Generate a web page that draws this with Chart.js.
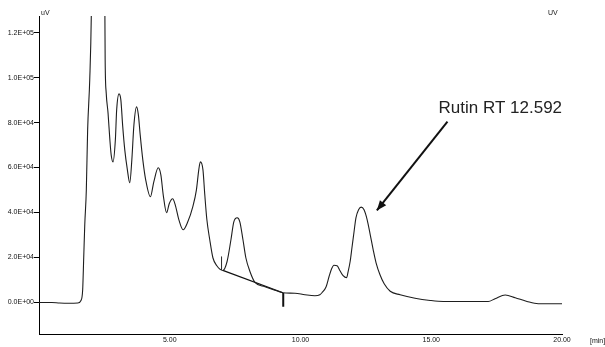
<!DOCTYPE html>
<html>
<head>
<meta charset="utf-8">
<script src="https://cdn.jsdelivr.net/npm/chart.js@4/dist/chart.umd.min.js"></script>
<style>
html,body{margin:0;padding:0;background:#fff;}
#wrap{width:605px;height:347px;}
</style>
</head>
<body>
<div id="wrap"><canvas id="c" width="605" height="347"></canvas></div>
<script>
// Retention time (min) and detector signal (uV)
const retentionMin = [0.00,0.49,0.79,1.18,1.48,1.60,1.67,1.71,1.75,1.81,1.86,1.94,2.00,2.10,2.40,2.52,2.53,2.57,2.64,2.71,2.76,2.83,2.92,2.97,3.06,3.13,3.20,3.28,3.38,3.47,3.55,3.63,3.73,3.80,3.87,3.97,4.08,4.26,4.39,4.56,4.66,4.75,4.88,4.98,5.11,5.21,5.35,5.51,5.69,5.88,6.02,6.11,6.17,6.27,6.34,6.42,6.53,6.65,6.80,7.03,7.19,7.34,7.45,7.58,7.68,7.80,7.91,8.07,8.26,8.64,9.02,9.33,9.79,10.17,10.55,10.74,10.82,10.98,11.09,11.19,11.28,11.40,11.51,11.63,11.76,11.82,11.90,11.97,12.05,12.12,12.22,12.32,12.43,12.55,12.66,12.78,12.89,13.04,13.20,13.43,13.81,14.38,14.96,15.46,17.18,17.44,17.83,18.21,18.66,19.09,20.00];
const signalUV = [0,0,-270,-360,-270,760,5640,19870,34530,50090,76750,98980,127420,240000,260000,127420,107870,93200,84310,72310,65640,62530,72310,85640,92760,90090,78530,67870,58980,53200,63420,78970,86980,83420,74530,63420,54530,46980,53640,59870,56750,47870,39870,43870,46090,43420,36750,32310,35870,42530,50090,58980,62530,58980,47870,36750,27870,19870,16310,14220,18090,27870,35870,37640,35870,27870,19870,13650,8890,6980,5420,4310,4090,3420,2980,3420,4310,6980,11420,14980,16530,16310,14090,11870,10980,13640,18310,24530,31640,37640,41200,42400,41200,36760,30530,23420,17640,12310,8310,4980,3420,1870,890,440,440,1640,3290,2090,440,-580,-580];

// Integration marks
const baselineT = [7.03, 9.33];
const baselineV = [14220, 4310];
const startMarkT = [6.98, 6.98];
const startMarkV = [20310, 14530];
const endMarkT = [9.34, 9.34];
const endMarkV = [4180, -1910];

// Annotation arrow (tail -> tip) and label
const arrowT = [15.62, 12.92];
const arrowV = [80440, 40890];
const annotationText = 'Rutin RT 12.592';
const annotationT = 15.28;
const annotationV = 84180;

// Axis ticks
const xTickValues = [5, 10, 15, 20];
const yTickValues = [0, 20000, 40000, 60000, 80000, 100000, 120000];
const xMin = 0, xMax = 20, yMin = -14044, yMax = 127400;

function pts(xs, ys){ return xs.map((x,i)=>({x:x, y:ys[i]})); }
function fmtExp(v){
  if (v === 0) return '0.0E+00';
  const e = Math.floor(Math.log10(Math.abs(v)));
  const m = v / Math.pow(10, e);
  return m.toFixed(1) + 'E' + (e >= 0 ? '+' : '-') + String(Math.abs(e)).padStart(2,'0');
}

const overlay = {
  id: 'overlay',
  afterDatasetsDraw(chart){
    const ctx = chart.ctx, xs = chart.scales.x, ys = chart.scales.y;
    // arrowhead
    const x0 = xs.getPixelForValue(arrowT[0]), y0 = ys.getPixelForValue(arrowV[0]);
    const x1 = xs.getPixelForValue(arrowT[1]), y1 = ys.getPixelForValue(arrowV[1]);
    const ang = Math.atan2(y1 - y0, x1 - x0);
    const L = 10, W = 4;
    ctx.save();
    ctx.fillStyle = '#111';
    ctx.beginPath();
    ctx.moveTo(x1, y1);
    ctx.lineTo(x1 - L*Math.cos(ang) + W*Math.sin(ang), y1 - L*Math.sin(ang) - W*Math.cos(ang));
    ctx.lineTo(x1 - L*Math.cos(ang) - W*Math.sin(ang), y1 - L*Math.sin(ang) + W*Math.cos(ang));
    ctx.closePath();
    ctx.fill();
    // label
    ctx.font = '17px "Liberation Sans", Arial, sans-serif';
    ctx.fillStyle = '#222';
    ctx.textAlign = 'left';
    ctx.textBaseline = 'alphabetic';
    ctx.fillText(annotationText, xs.getPixelForValue(annotationT), ys.getPixelForValue(annotationV));
    // unit labels
    ctx.font = '7px "Liberation Sans", Arial, sans-serif';
    ctx.fillStyle = '#111';
    ctx.fillText('uV', chart.chartArea.left + 2, 14.5);
    ctx.fillText('UV', 548, 14.5);
    ctx.fillText('[min]', 590, 342.5);
    ctx.restore();
  }
};

new Chart(document.getElementById('c'), {
  type: 'line',
  data: {
    datasets: [
      {data: pts(retentionMin, signalUV), borderColor: '#1e1e1e', borderWidth: 1.1, pointRadius: 0, cubicInterpolationMode: 'monotone'},
      {data: pts(baselineT, baselineV), borderColor: '#111', borderWidth: 1.3, pointRadius: 0, tension: 0},
      {data: pts(startMarkT, startMarkV), borderColor: '#333', borderWidth: 1, pointRadius: 0, tension: 0},
      {data: pts(endMarkT, endMarkV), borderColor: '#111', borderWidth: 2, pointRadius: 0, tension: 0},
      {data: pts(arrowT, arrowV), borderColor: '#111', borderWidth: 2, pointRadius: 0, tension: 0}
    ]
  },
  options: {
    responsive: false,
    animation: false,
    devicePixelRatio: 1,
    layout: {padding: {top: 16, right: 43, left: 0, bottom: 0}},
    plugins: {legend: {display: false}, tooltip: {enabled: false}},
    scales: {
      x: {
        type: 'linear', min: xMin, max: xMax,
        afterBuildTicks(s){ s.ticks = xTickValues.map(v=>({value:v})); },
        afterFit(s){ s.height = 13; },
        grid: {display: false, drawTicks: false},
        border: {display: true, color: '#000', width: 1},
        ticks: {
          padding: 2, maxRotation: 0, autoSkip: false, color: '#111',
          font: {family: '"Liberation Sans", Arial, sans-serif', size: 7},
          callback: v => v.toFixed(2)
        }
      },
      y: {
        type: 'linear', min: yMin, max: yMax,
        afterBuildTicks(s){ s.ticks = yTickValues.map(v=>({value:v})); },
        afterFit(s){ s.width = 39; },
        grid: {display: true, drawOnChartArea: false, drawTicks: true, tickLength: 5, color: '#000'},
        border: {display: true, color: '#000', width: 1},
        ticks: {
          padding: 0, autoSkip: false, color: '#111',
          font: {family: '"Liberation Sans", Arial, sans-serif', size: 7},
          callback: v => fmtExp(v)
        }
      }
    }
  },
  plugins: [overlay]
});
</script>
</body>
</html>
